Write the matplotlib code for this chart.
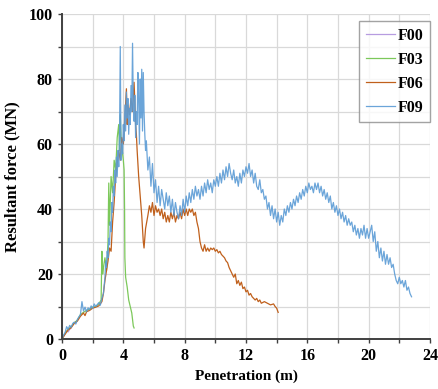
import numpy as np
import matplotlib.pyplot as plt
from matplotlib.ticker import MultipleLocator

# Penetration (m) and resultant force (MN) for each case
pen_f00 = [0.0, 0.1, 0.2, 0.3, 0.4, 0.5, 0.6]
force_f00 = [0.0, 0.8, 1.5, 2.5, 2.2, 3.0, 3.4]

pen_f03 = [0.0, 0.2, 0.4, 0.6, 0.8, 1.0, 1.2, 1.4, 1.6, 1.8, 2.0, 2.2, 2.4,
           2.55, 2.6, 2.65, 2.7, 2.8, 2.9, 3.0, 3.05, 3.1, 3.2, 3.3, 3.4,
           3.5, 3.6, 3.7, 3.75, 3.8, 3.85, 3.9, 3.95, 4.0, 4.05, 4.08, 4.1,
           4.15, 4.25, 4.35, 4.45, 4.55, 4.6, 4.65, 4.7]
force_f03 = [0.0, 1.8, 3.0, 3.8, 5.0, 5.8, 7.5, 8.2, 8.8, 9.2, 9.8, 10.0, 10.8,
             12.0, 27.0, 20.0, 22.0, 25.0, 21.0, 30.0, 48.0, 35.0, 50.0, 45.0, 55.0,
             52.0, 62.0, 66.0, 58.0, 69.0, 62.0, 60.0, 57.0, 55.0, 52.0, 40.0, 25.0,
             19.0, 16.0, 12.0, 10.0, 8.0, 6.0, 4.0, 3.4]

pen_f06 = [0.0, 0.2, 0.4, 0.6, 0.8, 1.0, 1.2, 1.4, 1.5, 1.6, 1.8, 2.0, 2.2,
           2.4, 2.6, 2.7, 2.8, 2.9, 3.0, 3.1, 3.2, 3.3, 3.4, 3.5, 3.6, 3.7,
           3.8, 3.9, 4.0, 4.1, 4.2, 4.25, 4.3, 4.4, 4.5, 4.6, 4.7, 4.75, 4.8,
           4.85, 4.9, 5.0, 5.1, 5.2, 5.3, 5.35, 5.45, 5.6, 5.7, 5.8, 5.9, 6.0,
           6.1, 6.2, 6.3, 6.4, 6.5, 6.6, 6.7, 6.8, 6.9, 7.0, 7.1, 7.2, 7.3,
           7.4, 7.5, 7.6, 7.7, 7.8, 7.9, 8.0, 8.1, 8.2, 8.3, 8.4, 8.5, 8.6,
           8.7, 8.8, 8.9, 9.0, 9.1, 9.2, 9.3, 9.4, 9.5, 9.6, 9.7, 9.8, 9.9,
           10.0, 10.1, 10.2, 10.3, 10.4, 10.5, 10.6, 10.7, 10.8, 10.9, 11.0,
           11.1, 11.2, 11.3, 11.4, 11.5, 11.6, 11.7, 11.8, 11.9, 12.0, 12.1,
           12.2, 12.3, 12.4, 12.5, 12.6, 12.7, 12.8, 12.9, 13.0, 13.2, 13.4,
           13.6, 13.8, 13.9, 14.0, 14.1]
force_f06 = [0.0, 1.5, 2.8, 3.5, 4.8, 5.5, 7.0, 8.0, 7.2, 8.4, 8.8, 9.5, 9.8,
             10.2, 11.5, 14.0, 18.0, 21.0, 24.0, 28.0, 27.0, 36.0, 42.0, 50.0, 54.0, 58.0,
             55.0, 62.0, 60.0, 68.0, 77.0, 66.0, 72.0, 69.0, 74.0, 70.0, 79.0, 73.0, 66.0,
             63.0, 58.0, 50.0, 44.0, 38.0, 30.0, 28.0, 34.0, 38.0, 41.0, 39.0, 42.0, 38.0,
             41.0, 39.0, 40.0, 38.0, 40.0, 37.0, 39.0, 36.0, 38.0, 36.0, 39.0, 37.0, 39.0,
             36.0, 38.0, 37.0, 39.0, 37.0, 40.0, 38.0, 40.0, 38.0, 40.0, 39.0, 40.0, 38.0,
             39.0, 36.0, 34.0, 30.0, 28.0, 27.0, 29.0, 27.0, 28.0, 27.0, 28.0, 27.5, 28.0,
             27.0, 27.5, 26.5, 27.0, 26.0, 25.5, 25.0, 24.0, 23.5, 22.0, 21.0,
             20.0, 19.0, 20.0, 17.0, 18.0, 16.5, 17.5, 15.5, 16.0, 14.5, 15.0,
             13.5, 14.0, 13.0, 12.5, 12.0, 12.5, 11.5, 12.0, 11.0, 11.5, 11.0,
             10.5, 10.8, 10.0, 9.5, 8.2]

pen_f09 = [0.0, 0.1, 0.2, 0.3, 0.4, 0.5, 0.6, 0.7, 0.8, 0.9, 1.0, 1.1, 1.2,
           1.3, 1.4, 1.5, 1.6, 1.7, 1.8, 1.9, 2.0, 2.1, 2.2, 2.3, 2.4, 2.5,
           2.6, 2.7, 2.8, 2.85, 2.9, 2.95, 3.0, 3.05, 3.1, 3.15, 3.2, 3.25,
           3.3, 3.35, 3.4, 3.45, 3.5, 3.55, 3.6, 3.65, 3.7, 3.75, 3.8, 3.85,
           3.9, 3.95, 4.0, 4.05, 4.1, 4.15, 4.2, 4.25, 4.3, 4.35, 4.4, 4.45,
           4.5, 4.55, 4.6, 4.65, 4.7, 4.75, 4.8, 4.85, 4.9, 4.95, 5.0, 5.05,
           5.1, 5.15, 5.2, 5.25, 5.3, 5.35, 5.4, 5.45, 5.5, 5.6, 5.7, 5.8,
           5.9, 6.0, 6.1, 6.2, 6.3, 6.4, 6.5, 6.6, 6.7, 6.8, 6.9, 7.0, 7.1,
           7.2, 7.3, 7.4, 7.5, 7.6, 7.7, 7.8, 7.9, 8.0, 8.1, 8.2, 8.3, 8.4,
           8.5, 8.6, 8.7, 8.8, 8.9, 9.0, 9.1, 9.2, 9.3, 9.4, 9.5, 9.6, 9.7,
           9.8, 9.9, 10.0, 10.1, 10.2, 10.3, 10.4, 10.5, 10.6, 10.7, 10.8,
           10.9, 11.0, 11.1, 11.2, 11.3, 11.4, 11.5, 11.6, 11.7, 11.8, 11.9,
           12.0, 12.1, 12.2, 12.3, 12.4, 12.5, 12.6, 12.7, 12.8, 12.9, 13.0,
           13.1, 13.2, 13.3, 13.4, 13.5, 13.6, 13.7, 13.8, 13.9, 14.0, 14.1,
           14.2, 14.3, 14.4, 14.5, 14.6, 14.7, 14.8, 14.9, 15.0, 15.1, 15.2,
           15.3, 15.4, 15.5, 15.6, 15.7, 15.8, 15.9, 16.0, 16.1, 16.2, 16.3,
           16.4, 16.5, 16.6, 16.7, 16.8, 16.9, 17.0, 17.1, 17.2, 17.3, 17.4,
           17.5, 17.6, 17.7, 17.8, 17.9, 18.0, 18.1, 18.2, 18.3, 18.4, 18.5,
           18.6, 18.7, 18.8, 18.9, 19.0, 19.1, 19.2, 19.3, 19.4, 19.5, 19.6,
           19.7, 19.8, 19.9, 20.0, 20.1, 20.2, 20.3, 20.4, 20.5, 20.6, 20.7,
           20.8, 20.9, 21.0, 21.1, 21.2, 21.3, 21.4, 21.5, 21.6, 21.7, 21.8,
           21.9, 22.0, 22.1, 22.2, 22.3, 22.4, 22.5, 22.6, 22.7, 22.8]
force_f09 = [0.0, 1.2, 2.0, 3.8, 3.0, 4.2, 3.6, 4.8, 5.2, 4.6, 6.0, 6.8, 7.5,
             11.5, 8.6, 9.8, 8.4, 9.6, 9.0, 10.2, 9.4, 10.8, 10.0, 10.6, 11.2, 10.4,
             12.5, 14.0, 19.0, 24.0, 22.0, 27.0, 25.0, 31.0, 29.0, 36.0, 33.0, 42.0,
             39.0, 47.0, 44.0, 52.0, 48.0, 56.0, 50.0, 58.0, 53.0, 62.0, 90.0, 55.0,
             60.0, 57.0, 66.0, 61.0, 72.0, 64.0, 76.0, 68.0, 74.0, 63.0, 71.0, 66.0,
             78.0, 70.0, 91.0, 72.0, 67.0, 75.0, 62.0, 70.0, 66.0, 82.0, 74.0, 60.0,
             80.0, 68.0, 83.0, 64.0, 82.0, 70.0, 63.0, 58.0, 61.0, 52.0, 56.0, 47.0,
             54.0, 45.0, 49.0, 42.0, 47.0, 41.0, 46.0, 43.0, 40.0, 45.0, 41.0, 44.0, 39.0,
             43.0, 38.0, 42.0, 39.0, 37.0, 41.0, 38.0, 43.0, 39.0, 44.0, 41.0, 45.0, 42.0,
             46.0, 43.0, 47.0, 44.0, 46.0, 43.0, 47.0, 44.0, 48.0, 45.0, 49.0, 46.0, 48.0,
             45.0, 49.0, 47.0, 50.0, 47.0, 51.0, 48.0, 52.0, 49.0, 53.0, 50.0,
             54.0, 51.0, 49.0, 52.0, 48.0, 50.0, 47.0, 51.0, 48.0, 52.0, 50.0,
             53.0, 51.0, 54.0, 50.0, 52.0, 48.0, 51.0, 47.0, 46.0, 49.0, 45.0,
             46.0, 43.0, 44.0, 40.0, 42.0, 38.0, 41.0, 37.0, 40.0, 36.0, 39.0,
             35.0, 38.0, 36.0, 40.0, 38.0, 41.0, 39.0, 42.0, 40.0, 43.0, 41.0,
             44.0, 42.0, 45.0, 43.0, 46.0, 44.0, 47.0, 45.0, 48.0, 46.0, 47.0,
             45.0, 48.0, 46.0, 48.0, 45.0, 47.0, 44.0, 46.0, 43.0, 45.0, 42.0,
             44.0, 40.0, 42.0, 39.0, 41.0, 38.0, 40.0, 37.0, 39.0, 36.0, 38.0,
             35.0, 37.0, 35.0, 36.0, 33.0, 35.0, 32.0, 34.0, 31.0, 34.0, 32.0,
             35.0, 31.0, 34.0, 31.0, 33.0, 35.0, 30.0, 33.0, 27.0, 30.0, 25.0,
             28.0, 24.0, 27.0, 23.0, 26.0, 23.0, 25.0, 22.0, 23.0, 20.0, 18.0,
             17.0, 19.0, 17.0, 18.0, 16.0, 18.0, 15.0, 16.0, 14.0, 13.0]

plt.rcParams['font.family'] = ['Liberation Serif', 'DejaVu Serif']
plt.rcParams['font.weight'] = 'bold'

fig = plt.figure(figsize=(4.38, 3.89), dpi=100)
ax = fig.add_axes([0.1416, 0.1285, 0.84, 0.8355])

ax.plot(pen_f00, force_f00, color='#b79ce0', lw=0.9, label='F00')
ax.plot(pen_f03, force_f03, color='#7cc85a', lw=0.9, label='F03')
ax.plot(pen_f06, force_f06, color='#c0601c', lw=0.9, label='F06')
ax.plot(pen_f09, force_f09, color='#5b9bd5', lw=0.9, alpha=0.9, label='F09')

ax.set_xlim(0, 24)
ax.set_ylim(0, 100)
ax.xaxis.set_major_locator(MultipleLocator(4))
ax.xaxis.set_minor_locator(MultipleLocator(2))
ax.yaxis.set_major_locator(MultipleLocator(20))
ax.yaxis.set_minor_locator(MultipleLocator(10))
ax.grid(True, which='both', color='#d9d9d9', lw=0.9)
ax.set_axisbelow(True)

for side in ['top', 'right']:
    ax.spines[side].set_visible(False)
for side in ['left', 'bottom']:
    ax.spines[side].set_color('#404040')
    ax.spines[side].set_linewidth(1.4)
ax.tick_params(which='both', direction='out', length=3, width=1, color='#404040',
               labelsize=11.5)

ax.set_xlabel('Penetration (m)', fontsize=11, fontweight='bold', labelpad=4)
ax.set_ylabel('Resultant force (MN)', fontsize=12, fontweight='bold', labelpad=6)

leg = ax.legend(loc='upper right', bbox_to_anchor=(1.0, 0.977), fontsize=11.5,
                frameon=True, fancybox=False, edgecolor='#8c8c8c',
                handlelength=1.8, labelspacing=0.5, borderpad=0.4,
                handletextpad=0.2, borderaxespad=0.0)
leg.get_frame().set_linewidth(1.0)

fig.savefig('out.png', dpi=100)
